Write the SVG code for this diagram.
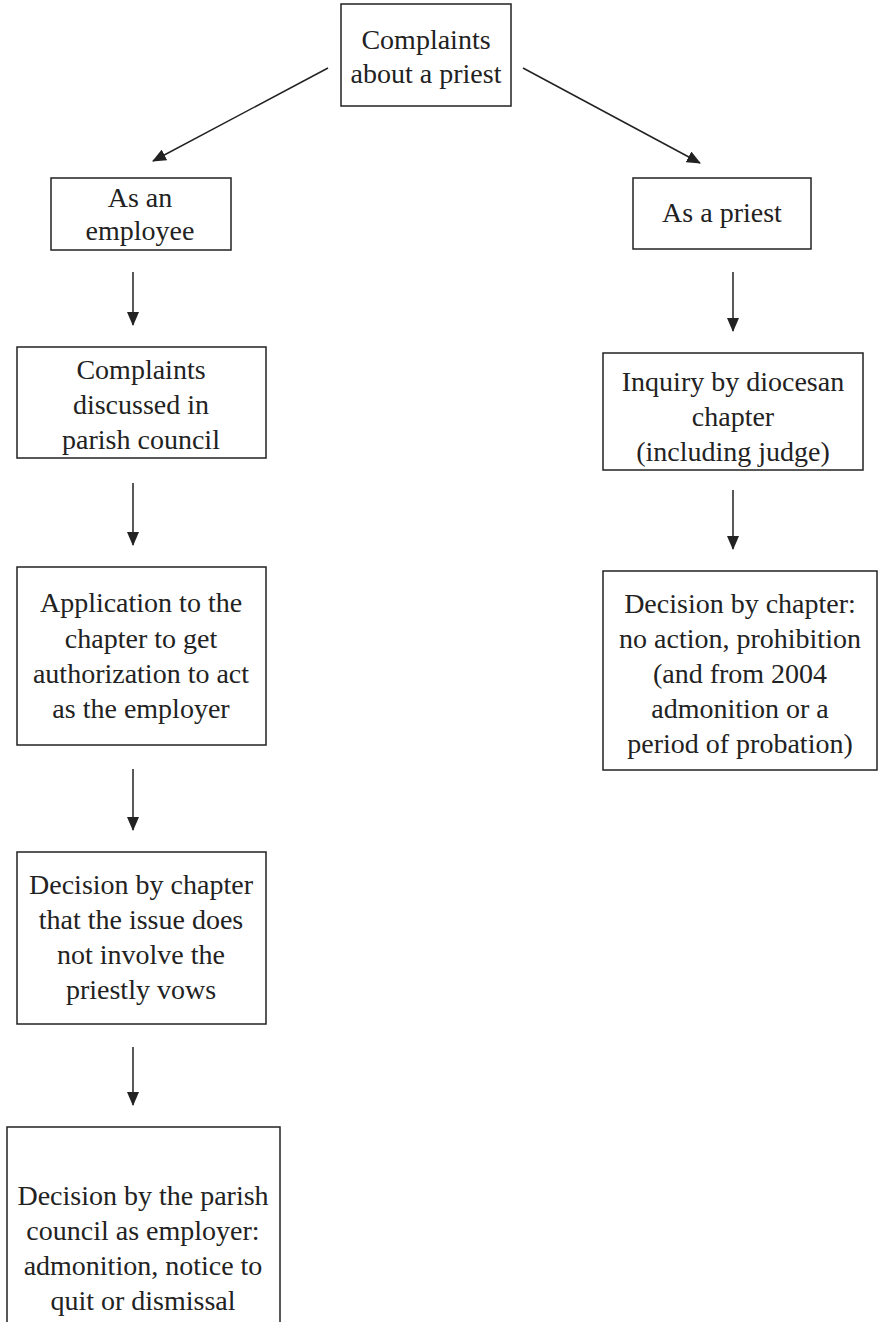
<svg xmlns="http://www.w3.org/2000/svg" width="878" height="1322" viewBox="0 0 878 1322">
<style>
.box{fill:#fff;stroke:#222;stroke-width:1.5}
.t{font-family:'Liberation Serif','Times New Roman',serif;font-size:28px;fill:#222;text-anchor:middle}
.c{stroke:#222;stroke-width:1.5;fill:none}
</style>
<defs>
<marker id="ah" markerUnits="userSpaceOnUse" markerWidth="14" markerHeight="12" refX="13" refY="6" orient="auto">
<path d="M0,0 L14,6 L0,12 Z" fill="#222"/>
</marker>
</defs>
<rect width="878" height="1322" fill="#fff"/>
<g id="connectors">
<line class="c" x1="328" y1="68" x2="153" y2="161" marker-end="url(#ah)"/>
<line class="c" x1="523" y1="68" x2="700" y2="163" marker-end="url(#ah)"/>
<line class="c" x1="133" y1="272" x2="133" y2="325" marker-end="url(#ah)"/>
<line class="c" x1="133" y1="483" x2="133" y2="545" marker-end="url(#ah)"/>
<line class="c" x1="133" y1="769" x2="133" y2="830" marker-end="url(#ah)"/>
<line class="c" x1="133" y1="1047" x2="133" y2="1105" marker-end="url(#ah)"/>
<line class="c" x1="733" y1="272" x2="733" y2="331" marker-end="url(#ah)"/>
<line class="c" x1="733" y1="490" x2="733" y2="549" marker-end="url(#ah)"/>
</g>
<g id="n-top">
<rect class="box" x="341" y="4" width="170" height="102"/>
<text class="t" x="426" y="49">Complaints</text>
<text class="t" x="426" y="83">about a priest</text>
</g>
<g id="n-employee">
<rect class="box" x="51" y="178" width="180" height="72"/>
<text class="t" x="140" y="207">As an</text>
<text class="t" x="140" y="240">employee</text>
</g>
<g id="n-priest">
<rect class="box" x="633" y="178" width="178" height="71"/>
<text class="t" x="722" y="222">As a priest</text>
</g>
<g id="n-discussed">
<rect class="box" x="17" y="347" width="249" height="111"/>
<text class="t" x="141" y="379">Complaints</text>
<text class="t" x="141" y="414">discussed in</text>
<text class="t" x="141" y="449">parish council</text>
</g>
<g id="n-application">
<rect class="box" x="17" y="567" width="249" height="178"/>
<text class="t" x="141" y="612">Application to the</text>
<text class="t" x="141" y="648">chapter to get</text>
<text class="t" x="141" y="683">authorization to act</text>
<text class="t" x="141" y="718">as the employer</text>
</g>
<g id="n-decision-chapter">
<rect class="box" x="17" y="852" width="249" height="172"/>
<text class="t" x="141" y="894">Decision by chapter</text>
<text class="t" x="141" y="929">that the issue does</text>
<text class="t" x="141" y="964">not involve the</text>
<text class="t" x="141" y="999">priestly vows</text>
</g>
<g id="n-decision-parish">
<rect class="box" x="7" y="1127" width="273" height="210"/>
<text class="t" x="143" y="1205">Decision by the parish</text>
<text class="t" x="143" y="1240">council as employer:</text>
<text class="t" x="143" y="1275">admonition, notice to</text>
<text class="t" x="143" y="1310">quit or dismissal</text>
</g>
<g id="n-inquiry">
<rect class="box" x="603" y="353" width="260" height="117"/>
<text class="t" x="733" y="391">Inquiry by diocesan</text>
<text class="t" x="733" y="426">chapter</text>
<text class="t" x="733" y="461">(including judge)</text>
</g>
<g id="n-decision-right">
<rect class="box" x="603" y="571" width="274" height="199"/>
<text class="t" x="740" y="613">Decision by chapter:</text>
<text class="t" x="740" y="648">no action, prohibition</text>
<text class="t" x="740" y="683">(and from 2004</text>
<text class="t" x="740" y="718">admonition or a</text>
<text class="t" x="740" y="753">period of probation)</text>
</g>
</svg>
